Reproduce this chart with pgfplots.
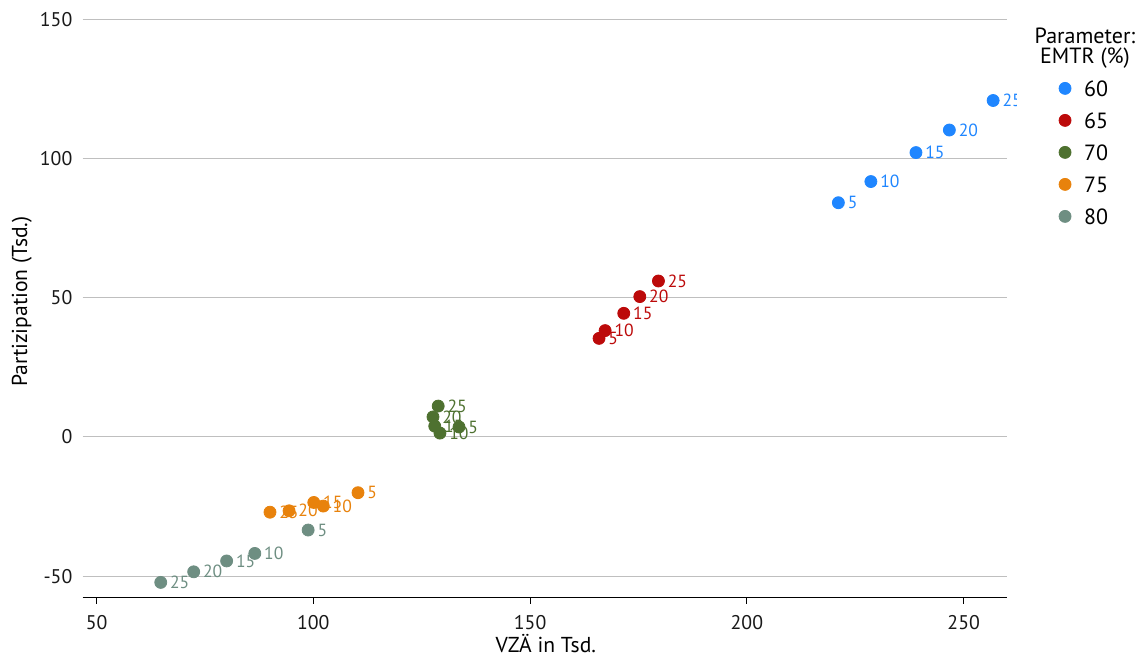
\documentclass[border=0pt]{standalone}
\usepackage{fontspec}
\setmainfont{PT Sans}
\usepackage{pgfplots}
\usepackage{pgfplotstable}
\pgfplotsset{compat=1.18}

% one colour per EMTR level
\definecolor{e60}{HTML}{1F86FF}
\definecolor{e65}{HTML}{BC0A0A}
\definecolor{e70}{HTML}{4E7130}
\definecolor{e75}{HTML}{E8820C}
\definecolor{e80}{HTML}{6E8E82}

% columns: VZÄ (Tsd.), Partizipation (Tsd.), parameter label
\pgfplotstableread{
x y lab
221.1 84.1 5
228.6 91.7 10
239.0 102.1 15
246.7 110.2 20
256.8 120.8 25
}\emtrA
\pgfplotstableread{
x y lab
165.9 35.4 5
167.3 38.2 10
171.6 44.4 15
175.3 50.4 20
179.6 56.0 25
}\emtrB
\pgfplotstableread{
x y lab
133.6 3.6 5
129.2 1.4 10
128.0 3.9 15
127.6 7.2 20
128.8 11.1 25
}\emtrC
\pgfplotstableread{
x y lab
110.3 -20.0 5
102.3 -24.8 10
100.1 -23.5 15
94.4 -26.5 20
90.0 -27.0 25
}\emtrD
\pgfplotstableread{
x y lab
98.8 -33.4 5
86.5 -41.8 10
80.0 -44.5 15
72.4 -48.4 20
64.8 -52.2 25
}\emtrE

\pgfplotsset{
  emtr/.style={
    only marks, mark=*, mark size=3pt, color=#1,
    mark options={draw=#1, fill=#1},
    nodes near coords, point meta=explicit symbolic,
    nodes near coords align=horizontal,
    every node near coord/.append style={anchor=west, inner sep=0pt,
      xshift=4.5pt, text=#1, font=\fontsize{8.8}{10}\selectfont},
  },
}

\begin{document}
\begin{tikzpicture}
\useasboundingbox (-41.35pt,-29pt) rectangle (530.15pt,299pt);
\begin{scope}[even odd rule]
% the plot panel ends a little right of the axis line; labels past it are cut
\clip (-41.35pt,-29pt) rectangle (530.15pt,299pt)
  (466.65pt,240pt) rectangle (485pt,258pt);
\begin{axis}[
  at={(0pt,0pt)}, anchor=south west,
  scale only axis, width=462.15pt, height=292.2pt,
  xmin=46.8, xmax=260, ymin=-57.8, ymax=152,
  clip=false,
  axis x line*=bottom, axis y line*=left,
  x axis line style={-, black, line width=0.5pt},
  y axis line style={draw=none},
  xtick={50,100,...,250}, ytick={-50,0,...,150},
  tick align=outside, major tick length=3pt,
  xtick style={black, line width=0.5pt},
  ytick style={draw=none},
  ymajorgrids, grid style={color=black!25, line width=0.5pt},
  /pgf/number format/assume math mode=true,
  ticklabel style={font=\fontsize{9.9}{11}\selectfont, text=black!90},
  xticklabel style={inner sep=0pt, anchor=north, yshift=-5.5pt},
  yticklabel style={inner sep=0pt, anchor=east, xshift=-2pt},
  xlabel={VZÄ in Tsd.},
  xlabel style={at={(axis description cs:0.501,0)}, anchor=base, yshift=-27.5pt,
    inner sep=0pt, font=\fontsize{10.8}{12}\selectfont},
  ylabel={Partizipation (Tsd.)},
  ylabel style={at={(axis description cs:-0.066,0.507)}, anchor=center,
    inner sep=0pt, font=\fontsize{10.8}{12}\selectfont},
  legend style={draw=none, fill=none, inner sep=0pt, outer sep=0pt,
    at={(axis description cs:1.0563,0.8857)}, anchor=north west,
    font=\fontsize{11}{12}\selectfont, row sep=8pt,
    nodes={inner sep=0pt, text height=8pt, text depth=0pt},
    /tikz/every odd column/.append style={column sep=6.5pt}},
  legend cell align=left,
  legend image code/.code={\draw[mark repeat=2, mark phase=2, #1]
    plot coordinates {(0pt,0pt) (6pt,0pt) (12pt,0pt)};},
]
\addplot[emtr=e60] table[x=x, y=y, meta=lab] {\emtrA};
\addlegendentry{60}
\addplot[emtr=e65] table[x=x, y=y, meta=lab] {\emtrB};
\addlegendentry{65}
\addplot[emtr=e70] table[x=x, y=y, meta=lab] {\emtrC};
\addlegendentry{70}
\addplot[emtr=e75] table[x=x, y=y, meta=lab] {\emtrD};
\addlegendentry{75}
\addplot[emtr=e80] table[x=x, y=y, meta=lab] {\emtrE};
\addlegendentry{80}
\node[anchor=north, align=center, inner sep=0pt,
  font=\fontsize{11}{9.75}\selectfont]
  at (axis description cs:1.0844,0.9755) {Parameter:\\EMTR (\%)};
\end{axis}
\end{scope}
\end{tikzpicture}
\end{document}
